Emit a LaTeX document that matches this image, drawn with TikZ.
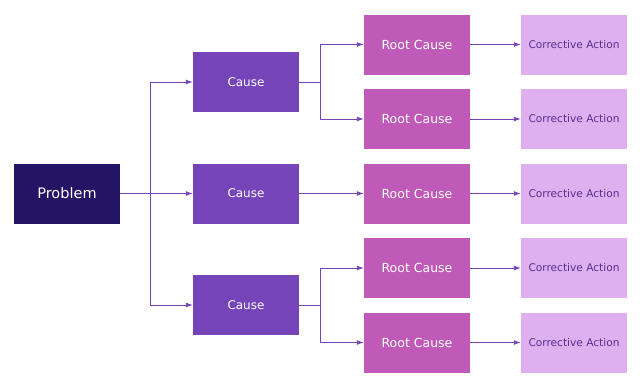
\documentclass[tikz,border=0pt]{standalone}
\usepackage{fontspec}
\setmainfont{DejaVu Sans}
\usetikzlibrary{arrows.meta}
\definecolor{cprob}{HTML}{231466}
\definecolor{ccause}{HTML}{7444B8}
\definecolor{croot}{HTML}{BF5AB8}
\definecolor{ccorr}{HTML}{DEB0F0}
\definecolor{ccorrtext}{HTML}{5A2E8E}
\definecolor{cline}{HTML}{7444B8}
\begin{document}
\begin{tikzpicture}[x=1pt,y=-1pt,
  box/.style={minimum width=106pt,minimum height=60pt,inner sep=0pt,anchor=center},
  probbox/.style={box,fill=cprob,text=white,font=\fontsize{14.5}{16}\selectfont},
  causebox/.style={box,fill=ccause,text=white,font=\fontsize{12}{14}\selectfont},
  rootbox/.style={box,fill=croot,text=white,font=\fontsize{12.5}{14}\selectfont},
  corrbox/.style={box,fill=ccorr,text=ccorrtext,font=\fontsize{10.6}{12}\selectfont},
  conn/.style={draw=cline,line width=0.9pt,-{Latex[length=7pt,width=5pt]}},
  seg/.style={draw=cline,line width=0.9pt}
]
\useasboundingbox (0,0) rectangle (640,386);
\node[probbox] (p) at (67,193.5) {Problem};
\node[causebox] (c1) at (246,82) {Cause};
\node[causebox] (c2) at (246,193.5) {Cause};
\node[causebox] (c3) at (246,305) {Cause};
\node[rootbox] (r1) at (417,44.5) {Root Cause};
\node[rootbox] (r2) at (417,119) {Root Cause};
\node[rootbox] (r3) at (417,193.5) {Root Cause};
\node[rootbox] (r4) at (417,268) {Root Cause};
\node[rootbox] (r5) at (417,342.5) {Root Cause};
\node[corrbox] (a1) at (574,44.5) {Corrective Action};
\node[corrbox] (a2) at (574,119) {Corrective Action};
\node[corrbox] (a3) at (574,193.5) {Corrective Action};
\node[corrbox] (a4) at (574,268) {Corrective Action};
\node[corrbox] (a5) at (574,342.5) {Corrective Action};
% problem to causes
\coordinate (pj) at (150,193.5);
\draw[seg] (p.east) -- (pj);
\draw[conn] (pj) |- (c1.west);
\draw[conn] (pj) -- (c2.west);
\draw[conn] (pj) |- (c3.west);
% causes to root causes
\coordinate (j1) at (320,82);
\coordinate (j3) at (320,305);
\draw[seg] (c1.east) -- (j1);
\draw[conn] (j1) |- (r1.west);
\draw[conn] (j1) |- (r2.west);
\draw[conn] (c2.east) -- (r3.west);
\draw[seg] (c3.east) -- (j3);
\draw[conn] (j3) |- (r4.west);
\draw[conn] (j3) |- (r5.west);
% root causes to actions
\draw[conn] (r1.east) -- (a1.west);
\draw[conn] (r2.east) -- (a2.west);
\draw[conn] (r3.east) -- (a3.west);
\draw[conn] (r4.east) -- (a4.west);
\draw[conn] (r5.east) -- (a5.west);
\end{tikzpicture}
\end{document}
